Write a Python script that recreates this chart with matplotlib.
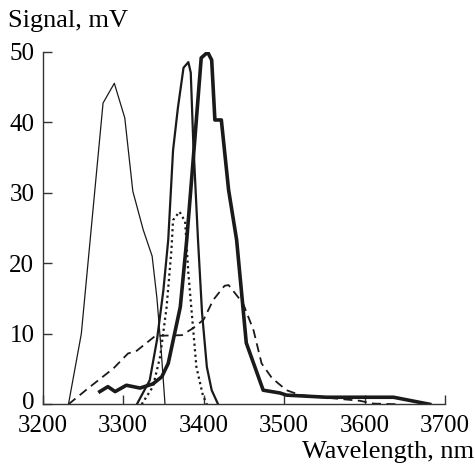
import matplotlib
matplotlib.use('Agg')
import matplotlib.pyplot as plt
import matplotlib.transforms as mtransforms

plt.rcParams['font.family'] = 'Liberation Serif'
plt.rcParams['font.size'] = 18

# thin line, left peak
x1 = [3232, 3248, 3275, 3289, 3302, 3312, 3325, 3336, 3342, 3347, 3352]
y1 = [0, 10, 42.7, 45.5, 40.6, 30.2, 24.7, 21, 15, 8, 0]
# medium line, peak ~48
x2 = [3317, 3333, 3342, 3350, 3356, 3362, 3368, 3375, 3381, 3384, 3387, 3393, 3398, 3404, 3410, 3418]
y2 = [0, 3.4, 9.1, 16.2, 23.3, 36, 42, 47.7, 48.5, 47, 37.5, 23.3, 13, 5.3, 2, 0]
# thick line, peak ~50
x3 = [3271, 3281, 3290, 3304, 3321, 3337, 3348, 3356, 3371, 3379, 3389, 3397, 3405, 3410, 3414,
      3422, 3431, 3441, 3453, 3474, 3495, 3503, 3553, 3636, 3681]
y3 = [1.8, 2.5, 1.8, 2.7, 2.3, 2.9, 3.9, 5.8, 13.8, 23.3, 37.5, 49.1, 49.9, 48.8, 40.3,
      40.3, 30.4, 23.3, 8.7, 2.0, 1.6, 1.3, 1.0, 1.0, 0]
# dotted line, peak ~27
x4 = [3323, 3337, 3346, 3354, 3360, 3362, 3370, 3377, 3381, 3391, 3399, 3404]
y4 = [0, 2.5, 6.8, 13.8, 21.9, 26.1, 27.3, 25.9, 18.6, 5.3, 1.3, 0]
# dashed line, peak ~17
x5 = [3232, 3259, 3288, 3306, 3317, 3329, 3340, 3373, 3387, 3400, 3412, 3426, 3431, 3449, 3462,
      3472, 3485, 3503, 3520, 3561, 3594, 3611, 3644]
y5 = [0, 2.5, 5.1, 7.2, 7.6, 8.7, 9.7, 9.8, 10.8, 12, 14.8, 16.8, 16.9, 14.3, 10.5,
      5.8, 3.7, 2.0, 1.3, 0.85, 0.5, 0.1, 0]

fig = plt.figure(figsize=(4.75, 4.66), dpi=100)
ax = fig.add_axes([0.0899, 0.1324, 0.847, 0.757])

ax.plot(x1, y1, color='#1a1a1a', lw=0.9)
ax.plot(x2, y2, color='#1a1a1a', lw=1.6)
ax.plot(x3, y3, color='#1a1a1a', lw=2.6)
ax.plot(x4, y4, color='#1a1a1a', lw=1.6, ls=(0, (1, 1.5)))
ax.plot(x5, y5, color='#1a1a1a', lw=1.3, ls=(0, (5, 3)))

ax.set_xlim(3200, 3700)
ax.set_ylim(0, 50)
ax.set_xticks([3200, 3300, 3400, 3500, 3600, 3700])
ax.set_yticks([0, 10, 20, 30, 40, 50])
ax.spines['top'].set_visible(False)
ax.spines['right'].set_visible(False)
for s in ['left', 'bottom']:
    ax.spines[s].set_linewidth(1.0)
    ax.spines[s].set_color('#333333')
ax.tick_params(direction='in', length=6.5, width=1.0, color='#333333')
ax.tick_params(axis='x', pad=8)
ax.tick_params(axis='y', pad=6)

# nudge the "0" label up a little so it clears "3200"
fig.canvas.draw()
lab0 = ax.get_yticklabels()[0]
lab0.set_transform(lab0.get_transform() + mtransforms.ScaledTranslation(0, 3 / 72, fig.dpi_scale_trans))

fig.text(8 / 475, 1 - 27 / 466, 'Signal, mV', ha='left', va='baseline', fontsize=19)
fig.text(474 / 475, 1 - 458 / 466, 'Wavelength, nm', ha='right', va='baseline', fontsize=19)

fig.savefig('out.png', dpi=100)
